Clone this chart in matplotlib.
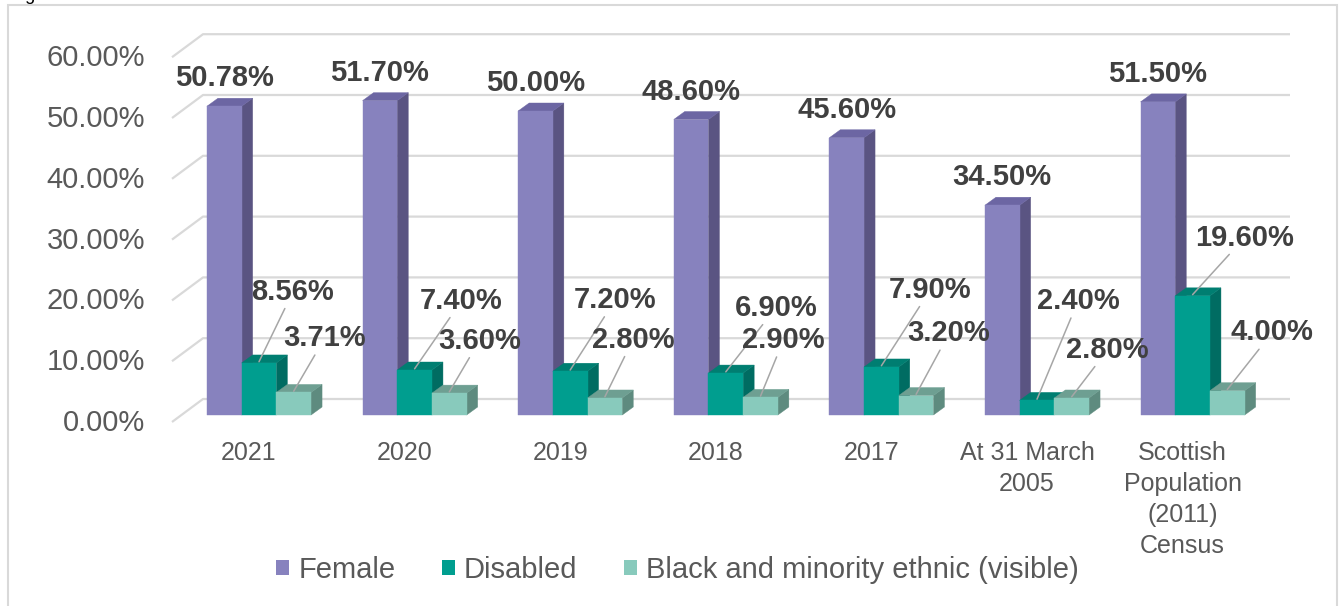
import matplotlib.pyplot as plt
from matplotlib.patches import Polygon, Rectangle, Patch

plt.rcParams['font.family'] = ['Liberation Sans', 'DejaVu Sans']

categories = ['2021', '2020', '2019', '2018', '2017', 'At 31 March\n2005',
              'Scottish\nPopulation\n(2011)\nCensus']
female = [50.78, 51.70, 50.00, 48.60, 45.60, 34.50, 51.50]
disabled = [8.56, 7.40, 7.20, 6.90, 7.90, 2.40, 19.60]
bme = [3.71, 3.60, 2.80, 2.90, 3.20, 2.80, 4.00]
series_names = ['Female', 'Disabled', 'Black and minority ethnic (visible)']
y_ticks = [0, 10, 20, 30, 40, 50, 60]

# where the value labels sit relative to the bar top (pixels)
female_offset = (0, -28)
disabled_offsets = [(34, -70), (47, -68), (45, -70), (50, -64), (49, -76), (41, -98), (52, -57)]
bme_offsets = [(31, -53), (30, -51), (28, -57), (23, -56), (33, -61), (36, -47), (45, -57)]

# face colours: front, side, top
shades = {
    'Female': ('#8782BE', '#5A5482', '#6C66A3'),
    'Disabled': ('#009E8F', '#006C62', '#007E71'),
    'Black and minority ethnic (visible)': ('#88CABC', '#5E8B7F', '#6E9F92'),
}

W, H, DPI = 1341, 606, 100
PX_CAT = 155.6      # pixels per category step
PX_PCT = 6.08       # pixels per percentage point
X0_PX, Y0_PX = 259, 415

fig = plt.figure(figsize=(W / DPI, H / DPI), dpi=DPI)
ax = fig.add_axes([0, 0, 1, 1])
ax.set_xlim(-X0_PX / PX_CAT, (W - X0_PX) / PX_CAT)
ax.set_ylim(-(H - Y0_PX) / PX_PCT, Y0_PX / PX_PCT)
ax.axis('off')


def px_x(p):
    return p / PX_CAT


def px_y(p):
    return p / PX_PCT


bar_w = px_x(34.7)
depth_dx, depth_dy = px_x(11), px_y(8)
grey = '#595959'
grid_c = '#D9D9D9'

# back wall gridlines with their perspective stubs on the left
wall_front_x, wall_back_x, wall_right_x = px_x(172 - X0_PX), px_x(203 - X0_PX), px_x(1290 - X0_PX)
for v in y_ticks:
    yb = v + px_y(16)
    yf = v - px_y(7)
    ax.plot([wall_front_x, wall_back_x, wall_right_x], [yf, yb, yb], color=grid_c, lw=1.6,
            zorder=1, solid_capstyle='butt')
    ax.text(px_x(145 - X0_PX), v - 1.3, f'{v:.2f}%', ha='right', va='center',
            fontsize=21, color=grey)


def bar3d(x0, v, colours):
    front, side, top = colours
    ax.add_patch(Polygon([(x0 + bar_w, 0), (x0 + bar_w + depth_dx, depth_dy),
                          (x0 + bar_w + depth_dx, v + depth_dy), (x0 + bar_w, v)],
                         closed=True, fc=side, ec=side, lw=0.3, zorder=2))
    ax.add_patch(Polygon([(x0, v), (x0 + depth_dx, v + depth_dy),
                          (x0 + bar_w + depth_dx, v + depth_dy), (x0 + bar_w, v)],
                         closed=True, fc=top, ec=top, lw=0.3, zorder=2))
    ax.add_patch(Rectangle((x0, 0), bar_w, v, fc=front, ec=front, lw=0.3, zorder=2))


lead = dict(arrowstyle='-', color='#A6A6A6', lw=1.1, shrinkA=0, shrinkB=0)
pt = 72 / DPI

for i in range(len(categories)):
    vals = [female[i], disabled[i], bme[i]]
    for j, name in enumerate(series_names):
        x0 = i - 1.5 * bar_w + j * bar_w
        bar3d(x0, vals[j], shades[name])
    xc = [i - bar_w, i, i + bar_w]

    ax.annotate(f'{female[i]:.2f}%', xy=(xc[0], female[i]),
                xytext=(female_offset[0] * pt, -female_offset[1] * pt),
                textcoords='offset points', ha='center', va='center',
                fontsize=21, fontweight='bold', color='#404040', zorder=4)
    for k, (val, off) in enumerate([(disabled[i], disabled_offsets[i]), (bme[i], bme_offsets[i])]):
        ax.annotate(f'{val:.2f}%', xy=(xc[k + 1], val + 0.2),
                    xytext=(off[0] * pt, -off[1] * pt), textcoords='offset points',
                    ha='center', va='center', fontsize=21, fontweight='bold',
                    color='#404040', arrowprops=lead, zorder=4)

    ax.text(i - px_x(10), px_y(Y0_PX - 441), categories[i], ha='center', va='top',
            fontsize=18, color=grey, linespacing=1.36)

handles = [Patch(fc=shades[n][0], ec='none') for n in series_names]
fig.legend(handles, series_names, loc='center', bbox_to_anchor=(677.5 / W, 1 - 570 / H),
           ncol=3, frameon=False, fontsize=21, handlelength=0.45, handleheight=0.45,
           handletextpad=0.3, columnspacing=1.6, labelcolor=grey)

# outer frame of the chart area
fig.add_artist(Rectangle((8 / W, -0.1), (1337 - 8) / W, 1.1 - 5 / H, transform=fig.transFigure,
                         fill=False, ec=grid_c, lw=1.5))
fig.text(10 / W, 1.0, 'Figure', fontsize=13, color='black', va='baseline')

fig.savefig('out.png', dpi=DPI)
